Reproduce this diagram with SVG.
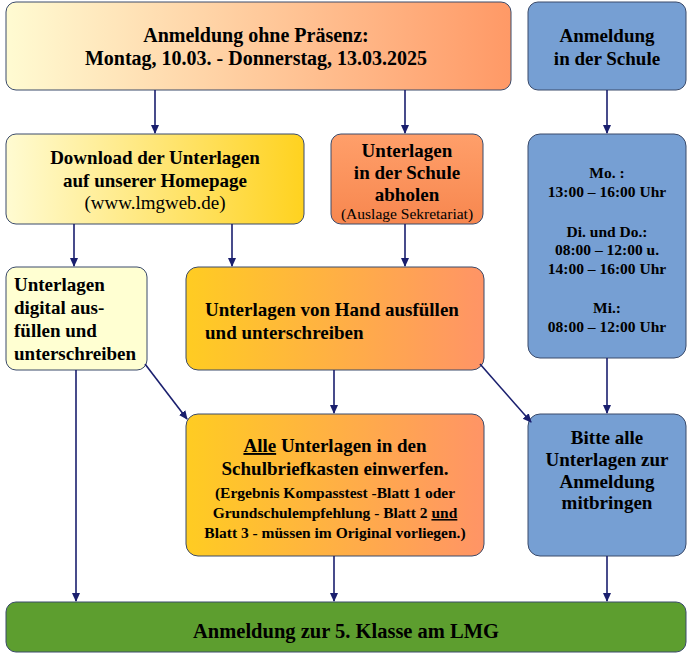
<svg xmlns="http://www.w3.org/2000/svg" width="691" height="657" viewBox="0 0 691 657">
<style>
text{font-family:"Liberation Serif","Times New Roman",serif;font-weight:bold;font-size:19px;fill:#000}
.n{font-weight:normal}
.s{font-size:15.5px}
.c{text-anchor:middle}
.box{stroke:#3a4a6a;stroke-width:1}
.blue{fill:#769fd3}
.ar{stroke:#1a1f6e;stroke-width:1.6;fill:none;marker-end:url(#ah)}
</style>
<defs>
<marker id="ah" markerWidth="10" markerHeight="10" refX="8" refY="5" orient="auto" markerUnits="userSpaceOnUse"><path d="M0,1 L9,5 L0,9 Z" fill="#1a1f6e"/></marker>
<linearGradient id="yo" x1="0" x2="1" y1="0" y2="0"><stop offset="0" stop-color="#fffbd2"/><stop offset="1" stop-color="#ff9966"/></linearGradient>
<linearGradient id="yg" x1="0" x2="1" y1="0" y2="0"><stop offset="0" stop-color="#fffbd2"/><stop offset="1" stop-color="#ffd21f"/></linearGradient>
<linearGradient id="go" x1="0" x2="1" y1="0" y2="0"><stop offset="0" stop-color="#ffcc22"/><stop offset="1" stop-color="#ff9466"/></linearGradient>
<linearGradient id="oo" x1="0" x2="0" y1="0" y2="1"><stop offset="0" stop-color="#ff9f6a"/><stop offset="1" stop-color="#f7874f"/></linearGradient>
</defs>
<g id="n1"><rect class="box" x="6" y="2" width="505" height="88" rx="10" fill="url(#yo)"/>
<text class="c" x="256" y="42" style="font-size:20px">Anmeldung ohne Präsenz:</text><text class="c" x="256" y="65" style="font-size:20px">Montag, 10.03. - Donnerstag, 13.03.2025</text></g>
<g id="n2"><rect class="box blue" x="528" y="2" width="158" height="88" rx="10"/>
<text class="c" x="607" y="42">Anmeldung</text><text class="c" x="607" y="65">in der Schule</text></g>
<g id="n3"><rect class="box" x="6" y="134" width="298" height="90" rx="10" fill="url(#yg)"/>
<text class="c" x="155" y="164">Download der Unterlagen</text><text class="c" x="155" y="187">auf unserer Homepage</text><text class="c n" x="155" y="209">(www.lmgweb.de)</text></g>
<g id="n4"><rect class="box" x="331" y="134" width="152" height="90" rx="10" fill="url(#oo)"/>
<text class="c" x="407" y="157">Unterlagen</text><text class="c" x="407" y="179">in der Schule</text><text class="c" x="407" y="201">abholen</text><text class="c n s" x="407" y="219">(Auslage Sekretariat)</text></g>
<g id="n5"><rect class="box blue" x="528" y="134" width="158" height="224" rx="12"/>
<text class="c s" x="607" y="178">Mo. :</text><text class="c s" x="607" y="197">13:00 – 16:00 Uhr</text>
<text class="c s" x="607" y="237">Di. und Do.:</text><text class="c s" x="607" y="255">08:00 – 12:00 u.</text><text class="c s" x="607" y="274">14:00 – 16:00 Uhr</text>
<text class="c s" x="607" y="313">Mi.:</text><text class="c s" x="607" y="332">08:00 – 12:00 Uhr</text></g>
<g id="n6"><rect class="box" x="6" y="267" width="141" height="103" rx="10" fill="#ffffd2"/>
<text x="14" y="291">Unterlagen</text><text x="14" y="314">digital aus-</text><text x="14" y="337">füllen und</text><text x="14" y="360">unterschreiben</text></g>
<g id="n7"><rect class="box" x="186" y="267" width="298" height="103" rx="12" fill="url(#go)"/>
<text x="205" y="316">Unterlagen von Hand ausfüllen</text><text x="205" y="339">und unterschreiben</text></g>
<g id="n8"><rect class="box" x="186" y="414" width="298" height="142" rx="12" fill="url(#go)"/>
<text class="c" x="335" y="452"><tspan text-decoration="underline">Alle</tspan> Unterlagen in den</text>
<text class="c" x="335" y="475">Schulbriefkasten einwerfen.</text>
<text class="c s" x="335" y="498">(Ergebnis Kompasstest -Blatt 1 oder</text>
<text class="c s" x="335" y="518">Grundschulempfehlung - Blatt 2 <tspan text-decoration="underline">und</tspan></text>
<text class="c s" x="335" y="538">Blatt 3 - müssen im Original vorliegen.)</text></g>
<g id="n9"><rect class="box blue" x="528" y="414" width="158" height="142" rx="12"/>
<text class="c" x="607" y="444">Bitte alle</text><text class="c" x="607" y="466">Unterlagen zur</text><text class="c" x="607" y="488">Anmeldung</text><text class="c" x="607" y="509">mitbringen</text></g>
<g id="n10"><rect class="box" x="6" y="602" width="680" height="50" rx="10" fill="#5d9e2f"/>
<text class="c" x="346" y="638" style="font-size:20.5px">Anmeldung zur 5. Klasse am LMG</text></g>
<g id="connectors">
<path class="ar" d="M155,90V133"/><path class="ar" d="M405,90V133"/><path class="ar" d="M607,90V133"/>
<path class="ar" d="M74,224V266"/><path class="ar" d="M232,224V266"/><path class="ar" d="M405,224V266"/>
<path class="ar" d="M607,358V413"/><path class="ar" d="M334,370V413"/>
<path class="ar" d="M145,364L187,419"/><path class="ar" d="M480,364L531,422"/>
<path class="ar" d="M76,370V601"/><path class="ar" d="M334,556V601"/><path class="ar" d="M607,556V601"/>
</g>
</svg>
